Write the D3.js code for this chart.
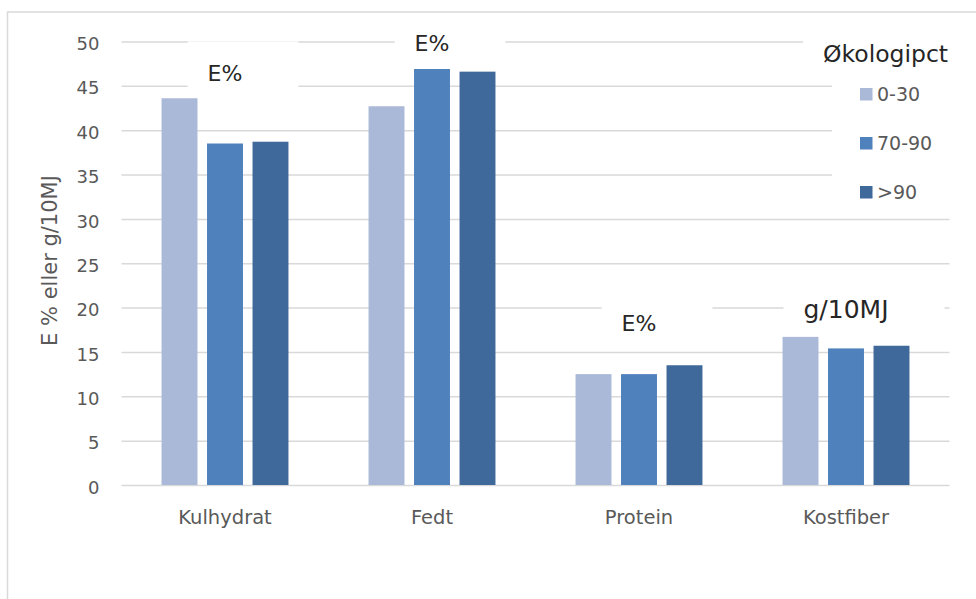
<!DOCTYPE html>
<html>
<head>
<meta charset="utf-8">
<script src="https://cdn.jsdelivr.net/npm/d3@7"></script>
<style>
  html, body { margin: 0; padding: 0; background: #fff; }
  svg { display: block; font-family: "DejaVu Sans", sans-serif; }
</style>
</head>
<body>
<svg id="chart" width="976" height="599"></svg>
<script>
// Nutrient composition by organic share (Økologipct)
const categories = ["Kulhydrat", "Fedt", "Protein", "Kostfiber"];
const seriesNames = ["0-30", "70-90", ">90"];
const values0to30 = [43.6, 42.7, 12.5, 16.7];
const values70to90 = [38.5, 46.9, 12.5, 15.4];
const valuesOver90 = [38.7, 46.6, 13.5, 15.7];
const yTicks = [0, 5, 10, 15, 20, 25, 30, 35, 40, 45, 50];
const unitLabels = ["E%", "E%", "E%", "g/10MJ"];
const yAxisTitle = "E % eller g/10MJ";
const legendTitle = "Økologipct";

// Layout / style (kept apart from the data)
const colors = ["#aab9d7", "#4f81bd", "#3f699b"];
const gridColor = "#d9d9d9";
const axisTextColor = "#595959";
const labelTextColor = "#262626";
// value level (in axis units) at which each unit annotation's baseline sits
const unitLabelLevel = [45.5, 48.9, 17.4, 18.8];

const series = [values0to30, values70to90, valuesOver90];
const rows = categories.map((c, i) => ({
  category: c,
  values: seriesNames.map((s, k) => ({ key: s, value: series[k][i] }))
}));

const svg = d3.select("#chart");

const x = d3.scaleBand().domain(categories).range([121.5, 949.5]).padding(0);
const x1 = d3.scaleBand().domain(seriesNames).range([0, x.bandwidth()])
  .paddingInner(0.21).paddingOuter(0.88);
const y = d3.scaleLinear().domain([0, 50]).range([485, 41.5]);
const color = d3.scaleOrdinal().domain(seriesNames).range(colors);

// Horizontal gridlines (including the baseline)
const yAxis = d3.axisLeft(y).tickValues(yTicks)
  .tickSize(-(x.range()[1] - x.range()[0])).tickPadding(22);
const gy = svg.append("g").attr("transform", `translate(${x.range()[0]},0)`).call(yAxis);
gy.select(".domain").remove();
gy.selectAll(".tick line").attr("stroke", gridColor).attr("stroke-width", 1.5);
gy.selectAll(".tick text")
  .attr("fill", axisTextColor)
  .style("font-size", "18px")
  .style("font-family", "DejaVu Sans, sans-serif")
  .attr("dy", "0.45em");

// White backing boxes behind the unit annotations
const notes = svg.append("g");
const noteGroups = notes.selectAll("g").data(categories).join("g");
noteGroups.each(function (c, i) {
  const g = d3.select(this);
  const cx = x(c) + x.bandwidth() / 2;
  const by = y(unitLabelLevel[i]);
  const box = g.append("rect").attr("fill", "#fff");
  const t = g.append("text")
    .attr("x", cx).attr("y", by)
    .attr("text-anchor", "middle")
    .attr("fill", labelTextColor)
    .style("font-size", unitLabels[i].length > 2 ? "25px" : "22px")
    .text(unitLabels[i]);
  const w = t.node().getComputedTextLength();
  const left = cx - w / 2 - 20;
  box.attr("x", left).attr("y", by - 40)
    .attr("width", Math.min(w + 76, 950 - left)).attr("height", 54);
});

// Legend backing boxes
const legend = svg.append("g");
legend.append("rect").attr("x", 803).attr("y", 22).attr("width", 150).attr("height", 54).attr("fill", "#fff");
legend.append("rect").attr("x", 832).attr("y", 76).attr("width", 120).attr("height", 132).attr("fill", "#fff");
legend.append("text")
  .attr("x", 823).attr("y", 61.5)
  .attr("fill", labelTextColor)
  .style("font-size", "23.5px")
  .text(legendTitle);
const items = legend.selectAll("g.item").data(seriesNames).join("g")
  .attr("class", "item")
  .attr("transform", (d, i) => `translate(860, ${94.5 + i * 49})`);
items.append("rect")
  .attr("x", 0).attr("y", -6.5).attr("width", 12.5).attr("height", 12.5)
  .attr("fill", d => color(d));
items.append("text")
  .attr("x", 17).attr("y", 6.5)
  .attr("fill", axisTextColor)
  .style("font-size", "19px")
  .text(d => d);

// Bars
const groups = svg.append("g").selectAll("g").data(rows).join("g")
  .attr("transform", d => `translate(${x(d.category)},0)`);
groups.selectAll("rect").data(d => d.values).join("rect")
  .attr("x", d => x1(d.key))
  .attr("width", x1.bandwidth())
  .attr("y", d => y(d.value))
  .attr("height", d => y(0) - y(d.value))
  .attr("fill", d => color(d.key));

// Category axis labels
const xAxis = d3.axisBottom(x).tickSize(0).tickPadding(0);
const gx = svg.append("g").attr("transform", "translate(0,485)").call(xAxis);
gx.select(".domain").remove();
gx.selectAll(".tick text")
  .attr("fill", axisTextColor)
  .style("font-size", "19.5px")
  .style("font-family", "DejaVu Sans, sans-serif")
  .attr("y", 39).attr("dy", 0);

// Y axis title
svg.append("text")
  .attr("transform", "translate(57,260.5) rotate(-90)")
  .attr("text-anchor", "middle")
  .attr("fill", axisTextColor)
  .style("font-size", "21px")
  .text(yAxisTitle);

// Chart frame (left and top edges visible)
svg.append("path")
  .attr("d", "M7.5,599 V12 H976")
  .attr("fill", "none")
  .attr("stroke", gridColor)
  .attr("stroke-width", 1.5);
</script>
</body>
</html>
